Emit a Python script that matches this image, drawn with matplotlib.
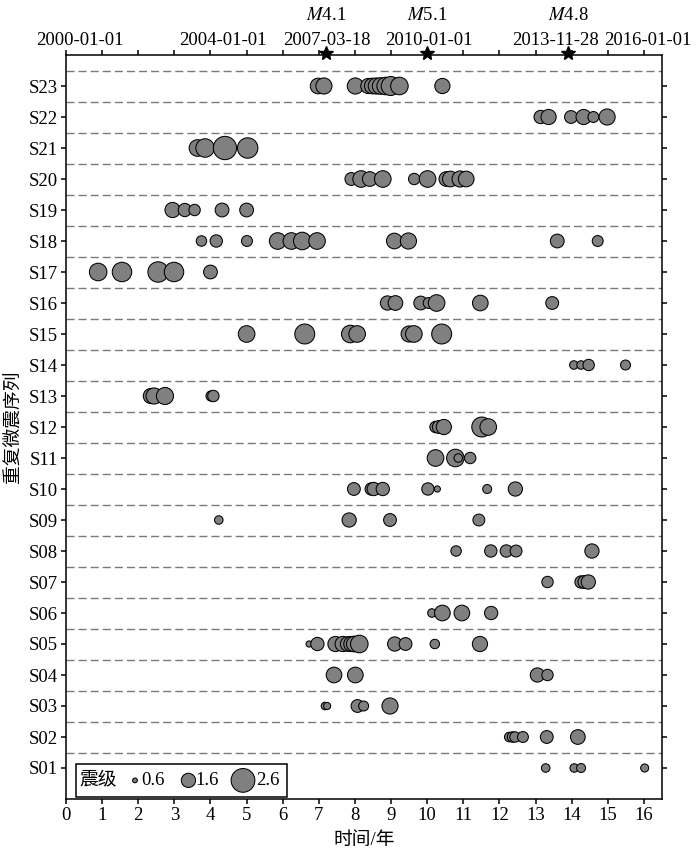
import numpy as np
import matplotlib
matplotlib.use("Agg")
import matplotlib.pyplot as plt
from matplotlib.patches import Rectangle

plt.rcParams['font.family'] = ['Liberation Serif', 'Noto Sans CJK SC']
plt.rcParams['mathtext.fontset'] = 'stix'

# repeating microearthquake sequences, S01 .. S23
seq_names = ['S%02d' % i for i in range(1, 24)]

# event times (years since 2000-01-01), one list per sequence
seq_times = [
    [13.28, 14.07, 14.26, 16.02],
    [12.27, 12.36, 12.43, 12.65, 13.31, 14.17],
    [7.17, 7.23, 8.07, 8.24, 8.97],
    [7.42, 8.01, 13.05, 13.33],
    [6.73, 6.96, 7.46, 7.66, 7.80, 7.90, 7.98, 8.12, 9.10, 9.40, 10.21, 11.46],
    [10.13, 10.42, 10.96, 11.77],
    [13.33, 14.26, 14.35, 14.46],
    [10.80, 11.76, 12.19, 12.46, 14.56],
    [4.23, 7.84, 8.97, 11.43],
    [7.97, 8.45, 8.52, 8.77, 10.02, 10.28, 11.66, 12.44],
    [10.23, 10.78, 10.86, 11.19],
    [10.23, 10.32, 10.46, 11.51, 11.69],
    [2.35, 2.44, 2.74, 4.02, 4.08],
    [14.06, 14.26, 14.47, 15.49],
    [5.00, 6.61, 7.87, 8.06, 9.50, 9.63, 10.40],
    [8.90, 9.12, 9.82, 10.04, 10.26, 11.47, 13.46],
    [0.89, 1.55, 2.55, 2.99, 4.00],
    [3.75, 4.16, 5.01, 5.86, 6.24, 6.54, 6.95, 9.09, 9.48, 13.60, 14.72],
    [2.95, 3.29, 3.56, 4.32, 5.00],
    [7.90, 8.17, 8.41, 8.77, 9.64, 10.01, 10.53, 10.64, 10.91, 11.08],
    [3.64, 3.85, 4.40, 5.03],
    [13.14, 13.36, 13.98, 14.33, 14.60, 14.98],
    [6.98, 7.14, 8.01, 8.37, 8.48, 8.59, 8.71, 8.85, 8.99, 9.23, 10.42],
]

# magnitudes, same layout as seq_times
seq_mags = [
    [1.0, 1.0, 1.05, 0.95],
    [1.1, 1.2, 1.2, 1.25, 1.45, 1.65],
    [0.9, 0.85, 1.45, 1.15, 1.8],
    [1.75, 1.75, 1.6, 1.3],
    [0.75, 1.5, 1.7, 1.7, 1.65, 1.7, 1.75, 1.95, 1.6, 1.45, 1.1, 1.7],
    [1.0, 1.75, 1.75, 1.5],
    [1.3, 1.4, 1.45, 1.6],
    [1.2, 1.4, 1.4, 1.35, 1.6],
    [1.0, 1.6, 1.45, 1.35],
    [1.45, 1.4, 1.5, 1.5, 1.4, 0.75, 1.05, 1.6],
    [1.85, 1.95, 1.0, 1.3],
    [1.3, 1.45, 1.7, 2.2, 1.85],
    [1.7, 1.8, 1.9, 1.2, 1.3],
    [1.0, 1.0, 1.3, 1.15],
    [1.85, 2.2, 1.95, 1.85, 1.8, 1.85, 2.2],
    [1.6, 1.65, 1.55, 1.25, 1.85, 1.75, 1.45],
    [1.95, 2.15, 2.25, 2.15, 1.55],
    [1.2, 1.4, 1.25, 1.85, 1.85, 1.95, 1.85, 1.75, 1.8, 1.55, 1.25],
    [1.7, 1.5, 1.3, 1.55, 1.55],
    [1.45, 1.85, 1.65, 1.85, 1.3, 1.85, 1.65, 1.75, 1.8, 1.75],
    [1.85, 2.05, 2.55, 2.25],
    [1.5, 1.7, 1.45, 1.7, 1.25, 1.8],
    [1.75, 1.8, 1.8, 1.7, 1.75, 1.8, 1.85, 1.95, 2.1, 1.95, 1.7],
]

# nearby larger earthquakes marked on the top axis
quake_times = [7.21, 10.0, 13.91]
quake_labels = ['$\\mathit{M}$4.1', '$\\mathit{M}$5.1', '$\\mathit{M}$4.8']

# date labels along the top axis
date_pos = [0.39, 4.35, 7.21, 10.04, 13.56, 16.11]
date_labels = ['2000-01-01', '2004-01-01', '2007-03-18', '2010-01-01',
               '2013-11-28', '2016-01-01']

legend_mags = [0.6, 1.6, 2.6]

FS = 13.5
FACE = '#808080'


def msize(m):
    # marker area (pt^2) for a given magnitude
    d = 6.84 * np.asarray(m) - 0.7
    return d ** 2


fig = plt.figure(figsize=(7, 8.52), dpi=100)
ax = fig.add_axes([66 / 700, 1 - 799 / 852, 596 / 700, 744 / 852])

ax.set_xlim(0, 16.5)
ax.set_ylim(0, 24)

# dashed separators between sequences
for k in range(1, 23):
    ax.axhline(k + 0.5, color='#7a7a7a', lw=1.0, dashes=(5.8, 2.9), zorder=1)
ax.axhline(23.5, color='#7a7a7a', lw=1.0, dashes=(5.8, 2.9), zorder=1)

for i, (t, m) in enumerate(zip(seq_times, seq_mags)):
    ax.scatter(t, np.full(len(t), i + 1), s=msize(m), c=FACE,
               edgecolors='black', linewidths=0.75, zorder=3)

ax.set_yticks(np.arange(1, 24))
ax.set_yticklabels(seq_names)
ax.set_xticks(np.arange(0, 17))

ax.tick_params(axis='both', which='major', direction='out', length=3.6,
               width=1.1, labelsize=FS, top=True, right=True,
               labeltop=False, labelright=False, pad=2)
for sp in ax.spines.values():
    sp.set_linewidth(1.1)

ax.set_xlabel('时间/年', fontsize=FS, labelpad=6)
ax.set_ylabel('重复微震序列', fontsize=FS, labelpad=5)

# top annotations
for x, lab in zip(date_pos, date_labels):
    ax.text(x, 24.48, lab, ha='center', va='center', fontsize=FS, clip_on=False)
for x, lab in zip(quake_times, quake_labels):
    ax.text(x, 25.28, lab, ha='center', va='center', fontsize=FS, clip_on=False)
ax.plot(quake_times, [24.05] * len(quake_times), '*', color='black',
        markersize=10, clip_on=False, zorder=5)

# magnitude legend box
ax.add_patch(Rectangle((0.28, 0.065), 5.85, 1.065, facecolor='white',
                       edgecolor='black', lw=1.1, zorder=6))
ax.text(0.36, 0.6, '震级', ha='left', va='center', fontsize=FS, zorder=7)
leg_x = [1.91, 3.39, 4.9]
lab_x = [2.08, 3.57, 5.26]
ax.scatter(leg_x, [0.6] * 3, s=msize(legend_mags), c=FACE,
           edgecolors='black', linewidths=0.75, zorder=7, clip_on=False)
for x, v in zip(lab_x, legend_mags):
    ax.text(x, 0.6, '%.1f' % v, ha='left', va='center', fontsize=FS, zorder=7)

fig.savefig('out.png', dpi=100)
